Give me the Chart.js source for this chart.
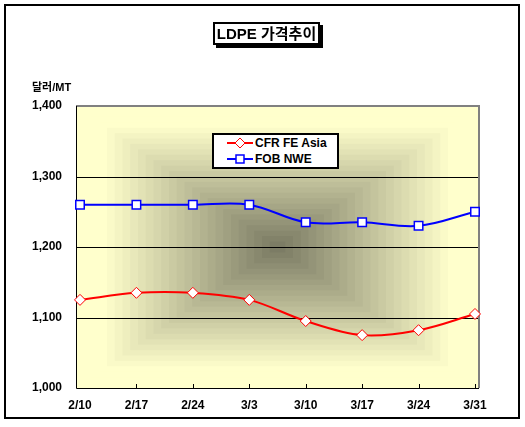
<!DOCTYPE html>
<html>
<head>
<meta charset="utf-8">
<script src="https://cdn.jsdelivr.net/npm/chart.js@4"></script>
<style>
  html, body { margin: 0; padding: 0; background: #fff; }
  #wrap { position: relative; width: 525px; height: 427px; overflow: hidden;
    font-family: "Liberation Sans", Arial, "Noto Sans CJK KR", sans-serif; }
  #frame { position: absolute; left: 4px; top: 4px; width: 516px; height: 415px;
    border: 2px solid #000; box-sizing: border-box; }
  canvas { position: absolute; left: 0; top: 0; }
  #title { position: absolute; left: 213px; top: 22px; width: 107px; height: 23px;
    border: 2px solid #000; box-sizing: border-box; background: #fff;
    box-shadow: 3px 3px 0 #000; font-weight: bold; font-size: 15px;
    line-height: 19px; text-align: center; white-space: nowrap; }
  #unit { position: absolute; left: 32px; top: 78px; font-weight: bold; font-size: 11px;
    white-space: nowrap; }
  #legend { position: absolute; left: 212px; top: 133px; width: 127px; height: 36px;
    border: 2px solid #000; box-sizing: border-box; background: #fff; }
  .row { position: absolute; left: 13px; height: 14px; font-weight: bold; font-size: 12px;
    line-height: 14px; white-space: nowrap; }
  .row svg { vertical-align: top; margin-right: 1px; }
</style>
</head>
<body>
<div id="wrap">
  <div id="frame"></div>
  <canvas id="c" width="525" height="427"></canvas>
  <div id="title">LDPE 가격추이</div>
  <div id="unit">달러/MT</div>
  <div id="legend">
    <div class="row" style="top:1px"><svg width="27" height="14"><line x1="0" y1="7" x2="26" y2="7" stroke="#ff0000" stroke-width="2"/><polygon points="13,2 18,7 13,12 8,7" fill="#fff" stroke="#ff0000" stroke-width="1"/></svg>CFR FE Asia</div>
    <div class="row" style="top:17px"><svg width="27" height="14"><line x1="0" y1="7" x2="26" y2="7" stroke="#0000ff" stroke-width="2"/><rect x="9" y="3" width="8" height="8" fill="#fff" stroke="#0000ff" stroke-width="1.5"/></svg>FOB NWE</div>
  </div>
</div>
<script>
const categories = ["2/10", "2/17", "2/24", "3/3", "3/10", "3/17", "3/24", "3/31"];
const cfrFeAsia = [1125, 1135, 1135, 1125, 1095, 1075, 1082, 1105];
const fobNwe = [1260, 1260, 1260, 1260, 1235, 1235, 1230, 1250];
const seriesNames = ["CFR FE Asia", "FOB NWE"];
const yTicks = [1000, 1100, 1200, 1300, 1400];

const FONT = '"Liberation Sans", Arial, sans-serif';
const EXT = 4;

const plotPlugin = {
  id: 'plotBg',
  beforeDatasetsDraw(chart) {
    const ctx = chart.ctx, ca = chart.chartArea;
    const L = ca.left - EXT, R = ca.right + EXT, T = ca.top, B = ca.bottom;
    const cx = (L + R) / 2, cy = (T + B) / 2, hw = (R - L) / 2, hh = (B - T) / 2;
    const edge = [255, 255, 204], center = [118, 118, 96];
    const N = 26;
    ctx.save();
    for (let i = 0; i < N; i++) {
      const f = 1 - i / N;
      const t = Math.min(1, f / 0.88);
      const c = edge.map((e, k) => Math.round(center[k] + (e - center[k]) * t));
      ctx.fillStyle = `rgb(${c[0]},${c[1]},${c[2]})`;
      ctx.fillRect(cx - hw * f, cy - hh * f, 2 * hw * f, 2 * hh * f);
    }
    const ys = chart.scales.y;
    ctx.strokeStyle = '#000'; ctx.lineWidth = 1;
    yTicks.forEach(v => {
      if (v === ys.min || v === ys.max) return;
      const y = Math.round(ys.getPixelForValue(v)) + 0.5;
      ctx.beginPath(); ctx.moveTo(L, y); ctx.lineTo(R, y); ctx.stroke();
    });
    ctx.strokeStyle = '#808080'; ctx.lineWidth = 2;
    ctx.beginPath(); ctx.moveTo(L, T); ctx.lineTo(R, T); ctx.lineTo(R, B); ctx.stroke();
    ctx.strokeStyle = '#000'; ctx.lineWidth = 1;
    ctx.beginPath(); ctx.moveTo(L + 0.5, T); ctx.lineTo(L + 0.5, B + 0.5); ctx.lineTo(R, B + 0.5); ctx.stroke();
    const xs = chart.scales.x;
    categories.forEach((c, i) => {
      if (i === 0) return;
      const x = Math.round(xs.getPixelForValue(i)) + 0.5;
      ctx.beginPath(); ctx.moveTo(x, B); ctx.lineTo(x, B - 4); ctx.stroke();
    });
    ctx.restore();
  }
};

new Chart(document.getElementById('c'), {
  type: 'line',
  data: {
    labels: categories,
    datasets: [
      { label: seriesNames[0], data: cfrFeAsia, borderColor: '#ff0000', borderWidth: 2,
        pointStyle: 'rectRot', pointRadius: 5.5, pointBorderWidth: 1,
        pointBackgroundColor: '#ffffff', pointBorderColor: '#ff0000',
        tension: 0.35, clip: false },
      { label: seriesNames[1], data: fobNwe, borderColor: '#0000ff', borderWidth: 2,
        pointStyle: 'rect', pointRadius: 6, pointBorderWidth: 1.5,
        pointBackgroundColor: '#ffffff', pointBorderColor: '#0000ff',
        tension: 0.35, clip: false }
    ]
  },
  options: {
    responsive: false,
    animation: false,
    devicePixelRatio: 1,
    layout: { padding: { left: 0, right: 50, top: 106, bottom: 0 } },
    plugins: { legend: { display: false }, title: { display: false }, tooltip: { enabled: false } },
    scales: {
      x: {
        type: 'category', offset: false,
        grid: { display: false, drawTicks: false }, border: { display: false },
        ticks: { color: '#000', font: { family: FONT, size: 12, weight: 'bold' },
                 padding: 10, maxRotation: 0, autoSkip: false },
        afterFit(s) { s.height = 39; }
      },
      y: {
        min: 1000, max: 1400,
        afterBuildTicks(s) { s.ticks = yTicks.map(v => ({ value: v })); },
        grid: { display: false, drawTicks: false }, border: { display: false },
        ticks: { color: '#000', font: { family: FONT, size: 12, weight: 'bold' }, padding: 18,
                 callback: v => v.toLocaleString('en-US') },
        afterFit(s) { s.width = 80; }
      }
    }
  },
  plugins: [plotPlugin]
});
</script>
</body>
</html>
